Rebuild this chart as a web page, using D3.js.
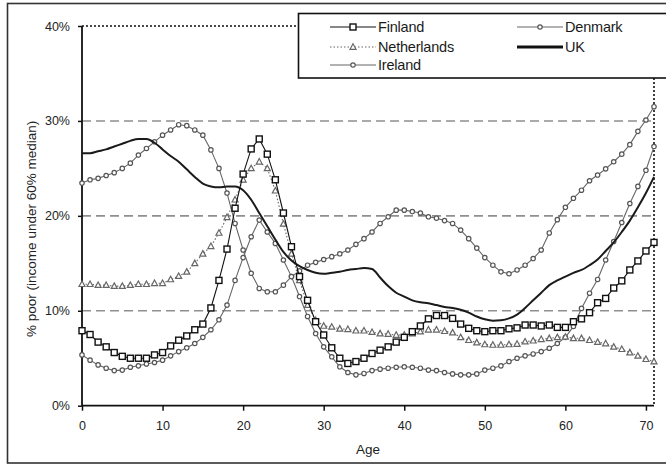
<!DOCTYPE html>
<html>
<head>
<meta charset="utf-8">
<script src="https://cdn.jsdelivr.net/npm/d3@7"></script>
<style>
  html, body { margin: 0; padding: 0; background: #fff; }
  svg { display: block; }
</style>
</head>
<body>
<div id="chart"></div>
<script>
// ages 0..71, one point per year of age
const ages = d3.range(0, 72);

const finland = [
  7.9, 7.5, 6.7, 6.2, 5.6, 5.2, 5.0, 5.0, 5.0, 5.35,
  5.6, 6.3, 6.9, 7.35, 8.0, 8.6, 10.3, 13.2, 16.5, 20.8,
  24.4, 27.05, 28.1, 26.5, 23.8, 20.3, 16.75, 13.6, 11.1, 8.85,
  7.45, 6.1, 5.0, 4.45, 4.65, 5.0, 5.5, 5.85, 6.2, 6.7,
  7.2, 7.8, 8.4, 9.15, 9.5, 9.5, 9.2, 8.6, 8.15, 7.9,
  7.8, 7.9, 7.9, 8.1, 8.2, 8.5, 8.5, 8.4, 8.5, 8.25,
  8.25, 8.85, 9.15, 9.8, 10.85, 11.3, 12.4, 13.15, 14.3, 15.25,
  16.3, 17.2
];

const netherlands = [
  12.8, 12.8, 12.7, 12.7, 12.6, 12.6, 12.7, 12.8, 12.8, 12.9,
  12.9, 13.3, 13.65, 14.1, 15.0, 16.0, 16.8, 18.2, 19.85, 21.7,
  23.8, 25.0, 25.7, 25.0, 22.65, 19.15, 16.0, 13.2, 10.6, 9.0,
  8.4, 8.3, 8.1, 8.05, 7.9, 7.9, 7.75, 7.6, 7.55, 7.45,
  7.45, 7.6, 7.8, 8.0, 8.0, 7.85, 7.7, 7.2, 6.9, 6.65,
  6.45, 6.4, 6.4, 6.45, 6.5, 6.75, 6.85, 7.0, 7.1, 7.2,
  7.25, 7.1, 7.1, 6.9, 6.7, 6.55, 6.2, 5.95, 5.6, 5.25,
  4.9, 4.65
];

const ireland = [
  23.45, 23.8, 23.95, 24.25, 24.55, 25.0, 25.55, 26.4, 27.1, 27.8,
  28.5, 29.05, 29.6, 29.5, 29.05, 28.5, 26.95, 25.0, 22.4, 19.2,
  16.4, 13.95, 12.35, 12.0, 12.0, 12.7, 13.6, 14.2, 14.8, 15.1,
  15.4, 15.7, 16.0, 16.4, 17.0, 17.6, 18.3, 19.2, 19.9, 20.6,
  20.6, 20.45, 20.3, 19.9, 19.75, 19.5, 19.2, 18.5, 17.6, 16.6,
  15.6, 14.8, 14.1, 13.9, 14.3, 14.8, 15.5, 16.4, 18.2, 19.6,
  20.9, 21.85, 22.7, 23.7, 24.3, 24.95, 25.7, 26.5, 27.5, 28.9,
  30.1, 31.5
];

const denmark = [
  5.35, 4.8, 4.3, 3.95, 3.7, 3.75, 4.05, 4.2, 4.4, 4.55,
  4.8, 5.25, 5.7, 6.1, 6.55, 7.2, 8.0, 9.05, 10.6, 13.2,
  15.6, 17.8, 19.55, 18.3, 17.1, 15.35, 13.6, 11.5, 9.4, 7.6,
  6.2, 5.15, 4.1, 3.5, 3.25, 3.4, 3.7, 3.85, 3.95, 4.05,
  4.1, 4.05, 3.95, 3.75, 3.7, 3.5, 3.35, 3.25, 3.25, 3.35,
  3.75, 3.95, 4.2, 4.65, 5.0, 5.25, 5.45, 5.7, 6.05, 6.55,
  7.2, 8.35, 10.25, 11.85, 13.3, 15.35, 17.3, 19.3, 21.3, 23.1,
  24.8, 27.3
];

const uk = [
  26.6, 26.6, 26.8, 27.0, 27.3, 27.6, 27.9, 28.1, 28.1, 27.7,
  27.0, 26.3, 25.7, 24.9, 24.1, 23.4, 23.1, 23.0, 23.1, 23.1,
  22.7, 21.7, 20.3, 18.9, 17.5, 16.2, 15.3, 14.7, 14.3, 14.0,
  13.9, 14.0, 14.1, 14.3, 14.4, 14.5, 14.4, 13.5, 12.6, 11.9,
  11.5, 11.1, 10.9, 10.8, 10.6, 10.4, 10.3, 10.1, 9.8, 9.4,
  9.1, 8.95, 9.0, 9.2, 9.6, 10.3, 11.1, 11.9, 12.7, 13.2,
  13.6, 14.0, 14.3, 14.8, 15.4, 16.3, 17.2, 18.3, 19.5, 20.9,
  22.4, 24.1
];

const yTicks = [0, 10, 20, 30, 40];
const xTicks = [0, 10, 20, 30, 40, 50, 60, 70];

const series = [
  { name: "Finland", values: finland, stroke: "#111", dash: null, width: 1.1, marker: "square", mstroke: "#111" },
  { name: "Netherlands", values: netherlands, stroke: "#666", dash: "1.5,2", width: 1.1, marker: "triangle", mstroke: "#666" },
  { name: "Ireland", values: ireland, stroke: "#666", dash: null, width: 1.1, marker: "circle", mstroke: "#555" },
  { name: "Denmark", values: denmark, stroke: "#666", dash: null, width: 1.1, marker: "circle", mstroke: "#555" },
  { name: "UK", values: uk, stroke: "#1a1a1a", dash: null, width: 2, marker: null }
];

const width = 666;
const height = 466;
const margin = { top: 26, right: 12, bottom: 60.3, left: 82 };
const font = "'Liberation Sans', Arial, sans-serif";

const svg = d3.select("#chart").append("svg")
  .attr("width", width)
  .attr("height", height)
  .style("font-family", font);

const x = d3.scaleLinear()
  .domain([0, 71])
  .range([margin.left, width - margin.right]);

const y = d3.scaleLinear()
  .domain([0, 40])
  .range([height - margin.bottom, margin.top]);

// outer frame
svg.append("rect")
  .attr("x", 7.5).attr("y", 3.5)
  .attr("width", 670).attr("height", 459.5)
  .attr("fill", "none")
  .attr("stroke", "#333")
  .attr("stroke-width", 1.6);

// gridlines
svg.append("g")
  .selectAll("line")
  .data(yTicks.filter(d => d > 0 && d < 40))
  .join("line")
  .attr("x1", x(0)).attr("x2", x(71))
  .attr("y1", d => y(d)).attr("y2", d => y(d))
  .attr("stroke", "#8f8f8f")
  .attr("stroke-width", 1.6)
  .attr("stroke-dasharray", "9,5");

// dotted top and right edges of plot area
svg.append("path")
  .attr("d", `M${x(0)},${y(40)}H${x(71)}V${y(0)}`)
  .attr("fill", "none")
  .attr("stroke", "#111")
  .attr("stroke-width", 1.6)
  .attr("stroke-dasharray", "2,2");

// axes
const yAxis = svg.append("g")
  .attr("transform", `translate(${x(0)},0)`)
  .call(d3.axisLeft(y).tickValues(yTicks).tickFormat(d => d + "%").tickSize(4).tickPadding(8));

const xAxis = svg.append("g")
  .attr("transform", `translate(0,${y(0)})`)
  .call(d3.axisBottom(x).tickValues(xTicks).tickSize(5).tickPadding(10));

[yAxis, xAxis].forEach(ax => {
  ax.select(".domain").attr("stroke", "#111").attr("stroke-width", 1.8);
  ax.selectAll(".tick line").attr("stroke", "#111").attr("stroke-width", 1.5);
  ax.selectAll(".tick text")
    .attr("fill", "#222")
    .style("font-family", font)
    .style("font-size", "12.5px");
});
yAxis.select(".domain").attr("d", `M0,${y(0)}V${y(40)}`);
xAxis.select(".domain").attr("d", `M${x(0)},0H${x(71)}`);

// axis titles
svg.append("text")
  .attr("transform", `translate(36,${(y(0) + y(40)) / 2 + 13}) rotate(-90)`)
  .attr("text-anchor", "middle")
  .attr("fill", "#222")
  .style("font-size", "13.5px")
  .text("% poor (income under 60% median)");

svg.append("text")
  .attr("x", (x(0) + x(71)) / 2)
  .attr("y", 454)
  .attr("text-anchor", "middle")
  .attr("fill", "#222")
  .style("font-size", "13.5px")
  .text("Age");

function drawMarker(g, type, cx, cy, color) {
  if (type === "square") {
    g.append("rect")
      .attr("x", cx - 3).attr("y", cy - 3)
      .attr("width", 6).attr("height", 6)
      .attr("fill", "#fff").attr("stroke", color).attr("stroke-width", 1.4);
  } else if (type === "triangle") {
    g.append("path")
      .attr("d", `M${cx},${cy - 3.2}L${cx + 3},${cy + 2.3}L${cx - 3},${cy + 2.3}Z`)
      .attr("fill", "#fff").attr("stroke", color).attr("stroke-width", 1.2);
  } else if (type === "circle") {
    g.append("circle")
      .attr("cx", cx).attr("cy", cy).attr("r", 2.2)
      .attr("fill", "#fff").attr("stroke", color).attr("stroke-width", 1.2);
  }
}

// lines + markers, bottom layer first
const drawOrder = ["Denmark", "Ireland", "Netherlands", "UK", "Finland"];
drawOrder.forEach(name => {
  const s = series.find(d => d.name === name);
  const line = d3.line()
    .x((d, i) => x(ages[i]))
    .y(d => y(d))
    .curve(s.marker ? d3.curveLinear : d3.curveMonotoneX);

  svg.append("path")
    .datum(s.values)
    .attr("fill", "none")
    .attr("stroke", s.stroke)
    .attr("stroke-width", s.width)
    .attr("stroke-dasharray", s.dash)
    .attr("d", line);

  if (s.marker) {
    const g = svg.append("g");
    s.values.forEach((v, i) => drawMarker(g, s.marker, x(ages[i]), y(v), s.mstroke));
  }
});

// legend
const legend = svg.append("g");
legend.append("rect")
  .attr("x", 298.5).attr("y", 13.5)
  .attr("width", 380).attr("height", 64.5)
  .attr("fill", "#fff")
  .attr("stroke", "#111")
  .attr("stroke-width", 1.6);

const legendPos = {
  Finland: [330, 27], Netherlands: [330, 47], Ireland: [330, 65],
  Denmark: [517, 27], UK: [517, 47]
};

series.forEach(s => {
  const [lx, ly] = legendPos[s.name];
  legend.append("line")
    .attr("x1", lx).attr("x2", lx + 46)
    .attr("y1", ly).attr("y2", ly)
    .attr("stroke", s.name === "UK" ? "#111" : s.stroke)
    .attr("stroke-width", s.name === "UK" ? 3 : 1.2)
    .attr("stroke-dasharray", s.dash);
  if (s.marker) drawMarker(legend, s.marker, lx + 23, ly, s.mstroke);
  legend.append("text")
    .attr("x", lx + 48)
    .attr("y", ly)
    .attr("dy", "0.36em")
    .attr("fill", "#1a1a1a")
    .style("font-size", "14.5px")
    .style("letter-spacing", "-0.2px")
    .text(s.name);
});
</script>
</body>
</html>
